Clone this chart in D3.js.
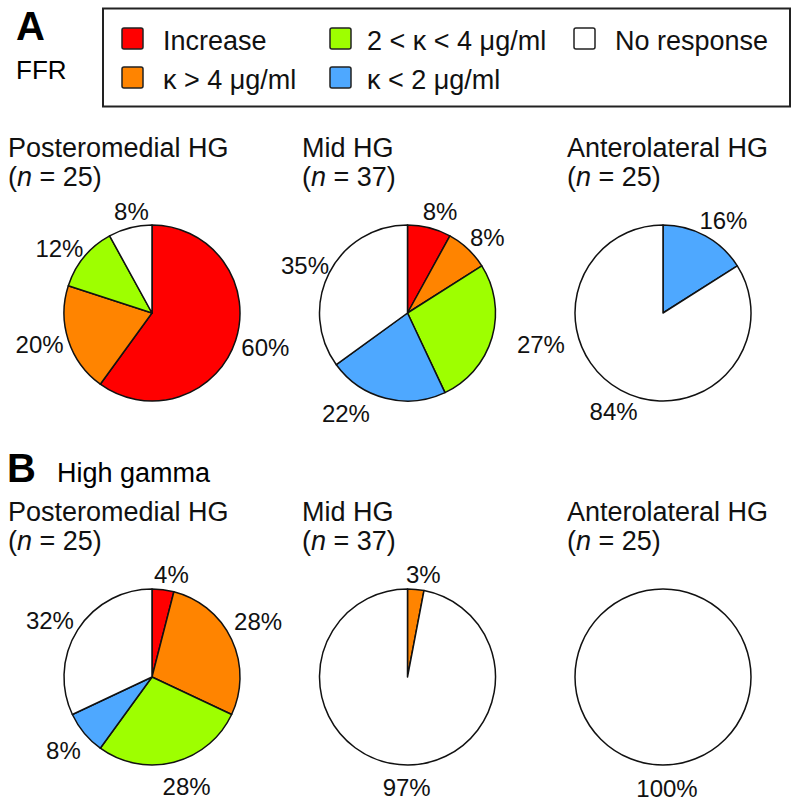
<!DOCTYPE html>
<html>
<head>
<meta charset="utf-8">
<script src="https://cdn.jsdelivr.net/npm/d3@7"></script>
<style>
  html, body { margin: 0; padding: 0; background: #fff; }
  svg { display: block; font-family: "Liberation Sans", Arial, Helvetica, sans-serif; }
</style>
</head>
<body>
<svg id="chart" width="800" height="805"></svg>
<script>
// ---- data ----
const categories = ["Increase", "κ > 4 μg/ml", "2 < κ < 4 μg/ml", "κ < 2 μg/ml", "No response"];
const regions = ["Posteromedial HG", "Mid HG", "Anterolateral HG"];
const regionN = [25, 37, 25];
const panels = ["FFR", "High gamma"];
const panelLetters = ["A", "B"];
const ffrValues = [
  [60, 20, 12, 0, 8],
  [8, 8, 27, 22, 35],
  [0, 0, 0, 16, 84]
];
const gammaValues = [
  [4, 28, 28, 8, 32],
  [0, 3, 0, 0, 97],
  [0, 0, 0, 0, 100]
];
const panelValues = [ffrValues, gammaValues];

// ---- styles / layout (kept apart from data) ----
const colors = ["#ff0000", "#ff8400", "#9eff00", "#4ea8ff", "#ffffff"];
const legendCols = [[0, 1], [2, 3], [4]];
const titleX = [8, 302, 567];
// label nudges [dx, dy] per panel, region, category
const labelNudge = [
  [[[4,-1],[-3,-4],[-4,9],[0,0],[8,10]],
   [[4,10],[1,8],[23,-1],[-33,-11],[0,5]],
   [[0,0],[0,0],[0,0],[5,8],[6,-2]]],
  [[[5,11],[2,-7],[6,-2],[0,0],[-5,5]],
   [[0,0],[5,12],[0,0],[0,0],[10,-4]],
   [[0,0],[0,0],[0,0],[0,0],[4,-4]]]
];

const svg = d3.select("#chart");
const R = 88;
const labelR = 115;
const xScale = d3.scalePoint().domain(regions).range([152, 663]);
const rowY = d3.scalePoint().domain(panels).range([313, 677]);
const titleY = d3.scalePoint().domain(panels).range([157, 521]);

// Panel letters and subtitles
svg.append("text").attr("x", 16).attr("y", 40).attr("font-size", 40).attr("font-weight", "bold").text(panelLetters[0]);
svg.append("text").attr("x", 16).attr("y", 79).attr("font-size", 26).text(panels[0]);
svg.append("text").attr("x", 7).attr("y", 482).attr("font-size", 40).attr("font-weight", "bold").text(panelLetters[1]);
svg.append("text").attr("x", 57).attr("y", 482).attr("font-size", 27).text(panels[1]);

// Legend
const lg = svg.append("g");
lg.append("rect").attr("x", 103).attr("y", 8.5).attr("width", 687).attr("height", 98)
  .attr("fill", "none").attr("stroke", "#222").attr("stroke-width", 2);
const colX = [122, 330, 574];
const textX = [163, 367, 615];
const rowYs = [28, 67];
legendCols.forEach((col, ci) => {
  col.forEach((k, ri) => {
    lg.append("rect").attr("x", colX[ci]).attr("y", rowYs[ri]).attr("width", 21).attr("height", 21)
      .attr("rx", 2).attr("fill", colors[k]).attr("stroke", "#222").attr("stroke-width", 1.5);
    lg.append("text").attr("x", textX[ci]).attr("y", rowYs[ri] + 22).attr("font-size", 27)
      .attr("fill", "#111").text(categories[k]);
  });
});

const pie = d3.pie().sort(null).value(d => d);
const arc = d3.arc().innerRadius(0).outerRadius(R);

panels.forEach((p, pi) => {
  regions.forEach((reg, ri) => {
    const cx = xScale(reg), cy = rowY(p);
    const tx = titleX[ri];
    const ty = titleY(p);
    svg.append("text").attr("x", tx).attr("y", ty).attr("font-size", 27).attr("fill", "#111").text(reg);
    const t2 = svg.append("text").attr("x", tx).attr("y", ty + 29).attr("font-size", 27).attr("fill", "#111");
    t2.append("tspan").text("(");
    t2.append("tspan").attr("font-style", "italic").text("n");
    t2.append("tspan").text(" = " + regionN[ri] + ")");

    const g = svg.append("g").attr("transform", `translate(${cx},${cy})`);
    const arcs = pie(panelValues[pi][ri]).map((a, k) => Object.assign(a, {k}));
    const shown = arcs.filter(a => a.value > 0);
    g.selectAll("path").data(shown).join("path")
      .attr("d", arc)
      .attr("fill", a => colors[a.k])
      .attr("stroke", "#111")
      .attr("stroke-width", 1.5)
      .attr("stroke-linejoin", "round");
    g.selectAll("text").data(shown).join("text")
      .attr("x", a => {
        const m = (a.startAngle + a.endAngle) / 2;
        return labelR * Math.sin(m) + labelNudge[pi][ri][a.k][0];
      })
      .attr("y", a => {
        const m = (a.startAngle + a.endAngle) / 2;
        return -labelR * Math.cos(m) + labelNudge[pi][ri][a.k][1];
      })
      .attr("dy", "0.36em")
      .attr("text-anchor", "middle")
      .attr("font-size", 24)
      .attr("fill", "#111")
      .text(a => a.value + "%");
  });
});
</script>
</body>
</html>
